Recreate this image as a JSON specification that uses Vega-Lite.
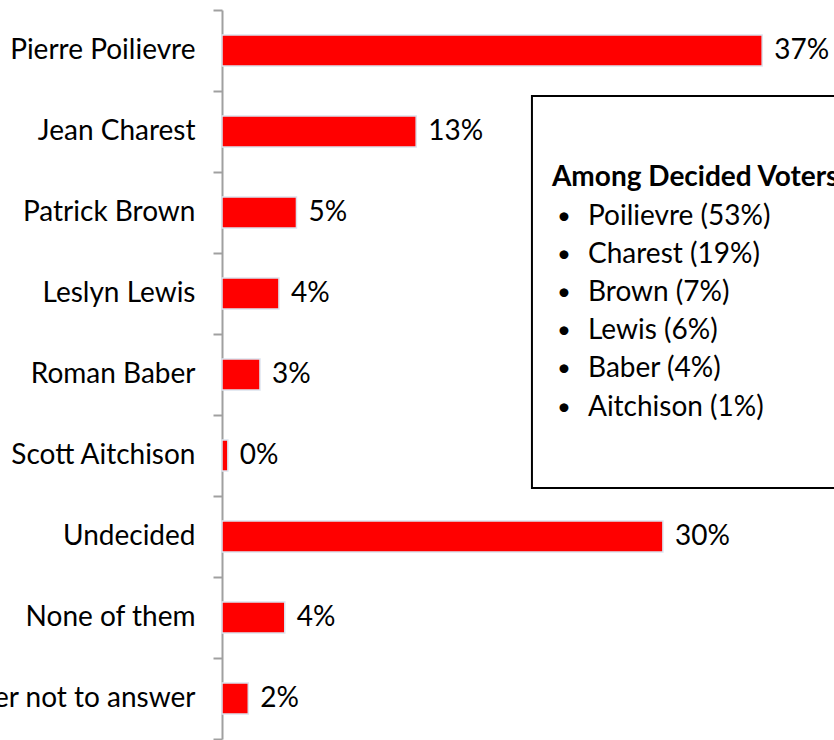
{
  "$schema": "https://vega.github.io/schema/vega-lite/v6.json",
  "width": 612,
  "height": 729,
  "autosize": {"type": "none"},
  "padding": {"left": 222, "top": 10, "right": 0, "bottom": 1},
  "background": "white",
  "config": {"view": {"stroke": null}, "font": "Lato"},
  "datasets": {
    "bars": [
      {"name": "Pierre Poilievre", "value": 37, "label": "37%"},
      {"name": "Jean Charest", "value": 13.3, "label": "13%"},
      {"name": "Patrick Brown", "value": 5.1, "label": "5%"},
      {"name": "Leslyn Lewis", "value": 3.9, "label": "4%"},
      {"name": "Roman Baber", "value": 2.6, "label": "3%"},
      {"name": "Scott Aitchison", "value": 0.4, "label": "0%"},
      {"name": "Undecided", "value": 30.2, "label": "30%"},
      {"name": "None of them", "value": 4.3, "label": "4%"},
      {"name": "Prefer not to answer", "value": 1.8, "label": "2%"}
    ],
    "box": [{"x": 21.23, "x2": 45, "y": 1.062, "y2": 5.9}],
    "heading": [{"x": 22.6, "y": 2.07, "text": "Among Decided Voters"}],
    "items": [
      {"xb": 22.95, "xt": 25.07, "y": 2.556, "text": "Poilievre (53%)"},
      {"xb": 22.95, "xt": 25.07, "y": 3.025, "text": "Charest (19%)"},
      {"xb": 22.95, "xt": 25.07, "y": 3.494, "text": "Brown (7%)"},
      {"xb": 22.95, "xt": 25.07, "y": 3.963, "text": "Lewis (6%)"},
      {"xb": 22.95, "xt": 25.07, "y": 4.432, "text": "Baber (4%)"},
      {"xb": 22.95, "xt": 25.07, "y": 4.91, "text": "Aitchison (1%)"}
    ]
  },
  "layer": [
    {
      "data": {"name": "bars"},
      "mark": {"type": "bar", "color": "#ff0000", "stroke": "#dce3ee", "strokeWidth": 1.5, "height": {"band": 0.383}},
      "encoding": {
        "y": {
          "field": "name", "type": "nominal", "sort": null,
          "scale": {"paddingInner": 0, "paddingOuter": 0},
          "axis": {
            "title": null, "tickBand": "extent", "domainColor": "#a0a0a0", "domainWidth": 2,
            "tickColor": "#a0a0a0", "tickWidth": 2, "tickSize": 9, "labelPadding": 18,
            "labelFontSize": 28, "labelColor": "#000000", "labelFont": "Lato", "labelLimit": 0
          }
        },
        "x": {"field": "value", "type": "quantitative", "scale": {"domain": [0, 41.92], "nice": false, "zero": true}, "axis": null}
      }
    },
    {
      "data": {"name": "bars"},
      "mark": {"type": "text", "align": "left", "baseline": "middle", "dx": 12, "fontSize": 28, "color": "#000000"},
      "encoding": {
        "y": {"field": "name", "type": "nominal", "sort": null, "scale": {"paddingInner": 0, "paddingOuter": 0}, "axis": null},
        "x": {"field": "value", "type": "quantitative"},
        "text": {"field": "label"}
      }
    },
    {
      "data": {"name": "box"},
      "mark": {"type": "rect", "fill": "white", "stroke": "#000000", "strokeWidth": 2},
      "encoding": {
        "x": {"field": "x", "type": "quantitative"},
        "x2": {"field": "x2"},
        "y": {"field": "y", "type": "quantitative", "scale": {"domain": [0, 9], "reverse": true, "nice": false}, "axis": null},
        "y2": {"field": "y2"}
      }
    },
    {
      "data": {"name": "heading"},
      "mark": {"type": "text", "align": "left", "baseline": "middle", "fontSize": 28, "fontWeight": "bold", "color": "#000000"},
      "encoding": {
        "x": {"field": "x", "type": "quantitative"},
        "y": {"field": "y", "type": "quantitative", "scale": {"domain": [0, 9], "reverse": true, "nice": false}, "axis": null},
        "text": {"field": "text"}
      }
    },
    {
      "data": {"name": "items"},
      "mark": {"type": "text", "align": "left", "baseline": "middle", "fontSize": 24, "color": "#000000"},
      "encoding": {
        "x": {"field": "xb", "type": "quantitative"},
        "y": {"field": "y", "type": "quantitative", "scale": {"domain": [0, 9], "reverse": true, "nice": false}, "axis": null},
        "text": {"value": "•"}
      }
    },
    {
      "data": {"name": "items"},
      "mark": {"type": "text", "align": "left", "baseline": "middle", "fontSize": 28, "color": "#000000"},
      "encoding": {
        "x": {"field": "xt", "type": "quantitative"},
        "y": {"field": "y", "type": "quantitative", "scale": {"domain": [0, 9], "reverse": true, "nice": false}, "axis": null},
        "text": {"field": "text"}
      }
    }
  ],
  "resolve": {"scale": {"y": "independent"}, "axis": {"y": "independent"}}
}
